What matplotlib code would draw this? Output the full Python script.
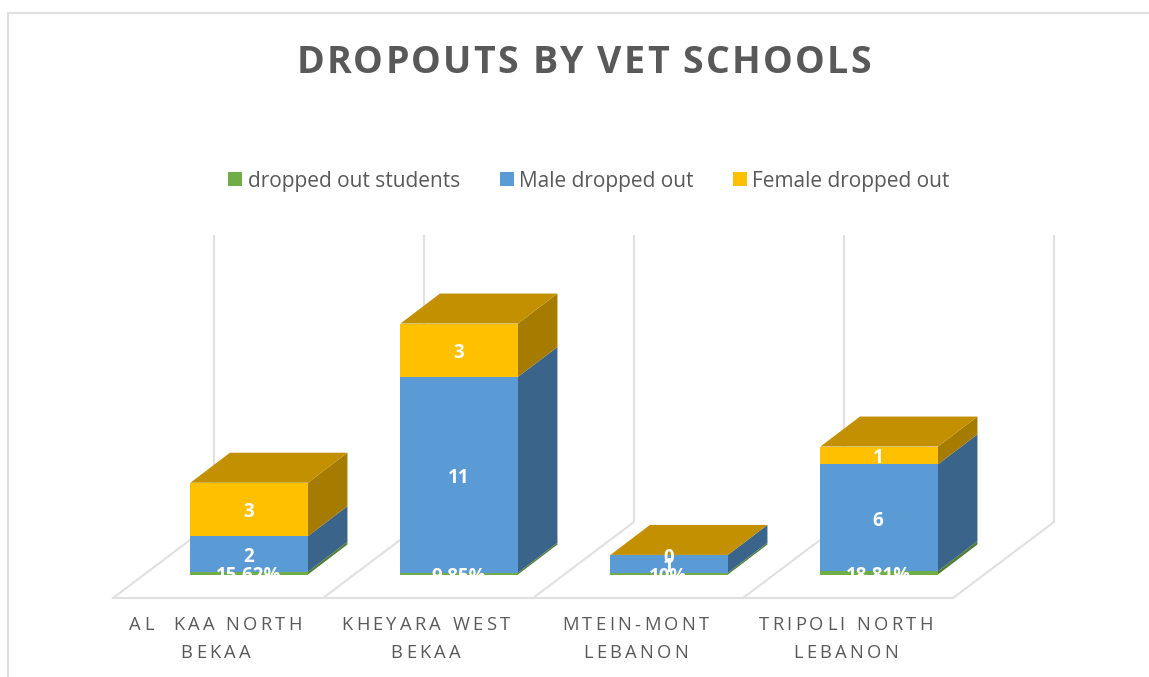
import matplotlib
matplotlib.use("Agg")
import matplotlib.pyplot as plt
from matplotlib.font_manager import findfont, get_font
from matplotlib.ft2font import LoadFlags
from matplotlib.patches import Patch
from matplotlib.text import Text
from matplotlib.transforms import IdentityTransform

# Data
schools = ["AL  KAA NORTH\nBEKAA", "KHEYARA WEST\nBEKAA", "MTEIN-MONT\nLEBANON", "TRIPOLI NORTH\nLEBANON"]
dropped_out = [0.1562, 0.0985, 0.10, 0.1881]
dropped_labels = ["15.62%", "9.85%", "10%", "18.81%"]
male = [2, 11, 1, 6]
female = [3, 3, 0, 1]
series_names = ["dropped out students", "Male dropped out", "Female dropped out"]

W, H = 1149, 677
CAT_PX = 210.0    # pixels between two categories
UNIT_PX = 17.8    # pixels for one student
X0_PX, Y0_PX = 249.2, 574.5   # where category 0, value 0 falls
BAR_W = 117.5 / CAT_PX
DX, DY = 39.5 / CAT_PX, 30 / UNIT_PX    # bar depth
FLOOR_DX, FLOOR_DY = 101 / CAT_PX, 76 / UNIT_PX
LABEL_SHIFT = 3 / UNIT_PX    # white labels sit a little under the segment middle
GRID = "#E0E0E0"
TEXT = "#595959"
FONT = "Open Sans"

GREEN, BLUE, GOLD = "#70AD47", "#5B9BD5", "#FFC000"
GREEN_SIDE, BLUE_SIDE, GOLD_SIDE = "#4F7F33", "#3A6489", "#A67C00"
GOLD_TOP = "#C29000"


class SpacedText(Text):
    # Text with extra letter spacing, line by line, keeps the whole string
    def __init__(self, *args, spacing=0.0, line_px=27.0, **kwargs):
        super().__init__(*args, **kwargs)
        self.spacing = spacing
        self.line_px = line_px

    def draw(self, renderer):
        fp = self.get_fontproperties()
        font = get_font(findfont(fp))
        font.set_size(fp.get_size_in_points(), self.get_figure().dpi)
        cx, y = self.get_transform().transform(self.get_position())
        for line in self.get_text().split("\n"):
            adv = [font.load_char(ord(c), flags=LoadFlags.NO_HINTING).linearHoriAdvance / 65536 for c in line]
            x = cx - (sum(adv) + self.spacing * (len(line) - 1)) / 2
            for c, a in zip(line, adv):
                t = Text(x, y, c, transform=IdentityTransform(), fontproperties=fp,
                         color=self.get_color(), ha="left", va="baseline")
                t.set_figure(self.get_figure())
                t.draw(renderer)
                x += a + self.spacing
            y -= self.line_px


fig = plt.figure(figsize=(W / 100, H / 100), dpi=100)
ax = fig.add_axes([0, 0, 1, 1])
ax.set_xlim(-X0_PX / CAT_PX, (W - X0_PX) / CAT_PX)
ax.set_ylim(-(H - Y0_PX) / UNIT_PX, Y0_PX / UNIT_PX)
ax.axis("off")


def px_x(p):
    return (p - X0_PX) / CAT_PX


def px_y(p):
    return (Y0_PX - p) / UNIT_PX


# chart frame
ax.plot([px_x(8), px_x(8), px_x(W)], [px_y(H), px_y(13), px_y(13)], color="#D9D9D9", lw=1.2, zorder=1)

# floor and back wall lines
wall_top = px_y(236)
floor_front = px_y(598)
floor_back = floor_front + FLOOR_DY
n = len(schools)
for i in range(n + 1):
    xf = px_x(113) + i * (px_x(953) - px_x(113)) / n
    ax.plot([xf, xf + FLOOR_DX, xf + FLOOR_DX], [floor_front, floor_back, wall_top], color=GRID, lw=1.5, zorder=1)
ax.plot([px_x(113), px_x(953)], [floor_front, floor_front], color=GRID, lw=1.5, zorder=1)

# stacked 3d bars: side faces, top, then the front
for i in range(n):
    x1 = i + BAR_W / 2
    segments = [(0, dropped_out[i], GREEN, GREEN_SIDE),
                (dropped_out[i], male[i], BLUE, BLUE_SIDE),
                (dropped_out[i] + male[i], female[i], GOLD, GOLD_SIDE)]
    for bottom, height, front, side in segments:
        top = bottom + height
        ax.fill([x1, x1 + DX, x1 + DX, x1], [bottom, bottom + DY, top + DY, top], color=side, lw=0, zorder=2)
        ax.bar(i, height, BAR_W, bottom=bottom, color=front, lw=0, zorder=3)
    stack = dropped_out[i] + male[i] + female[i]
    x0 = i - BAR_W / 2
    ax.fill([x0, x1, x1 + DX, x0 + DX], [stack, stack, stack + DY, stack + DY], color=GOLD_TOP, lw=0, zorder=3)

# data labels
label_font = dict(color="white", family=FONT, fontsize=13.5, fontweight="bold", ha="center", va="center", zorder=5)
for i in range(n):
    xl = i - 1 / CAT_PX
    ax.text(xl, dropped_out[i] / 2 - LABEL_SHIFT, dropped_labels[i], **label_font)
    ax.text(xl, dropped_out[i] + male[i] / 2 - LABEL_SHIFT, str(male[i]), **label_font)
    ax.text(xl, dropped_out[i] + male[i] + female[i] / 2 - LABEL_SHIFT, str(female[i]), **label_font)

# category labels
for i, school in enumerate(schools):
    ax.add_artist(SpacedText(px_x(215.5 + CAT_PX * i), px_y(630.5), school, spacing=3.3, line_px=27,
                             color=TEXT, family=FONT, fontsize=13.2, ha="center"))

# title
ax.add_artist(SpacedText(px_x(583.5), px_y(73), "DROPOUTS BY VET SCHOOLS", spacing=2.2,
                         color=TEXT, family=FONT, fontsize=27, fontweight="bold", ha="center"))

# legend
handles = [Patch(color=c, lw=0) for c in (GREEN, BLUE, GOLD)]
fig.legend(handles, series_names, ncol=3, loc="center", bbox_to_anchor=(589 / W, 1 - 181 / H), frameon=False,
           prop={"family": FONT, "size": 15}, labelcolor=TEXT, handlelength=0.68, handleheight=0.68,
           handletextpad=0.25, columnspacing=1.9, borderpad=0, borderaxespad=0)

fig.savefig("out.png", dpi=100, facecolor="white")
